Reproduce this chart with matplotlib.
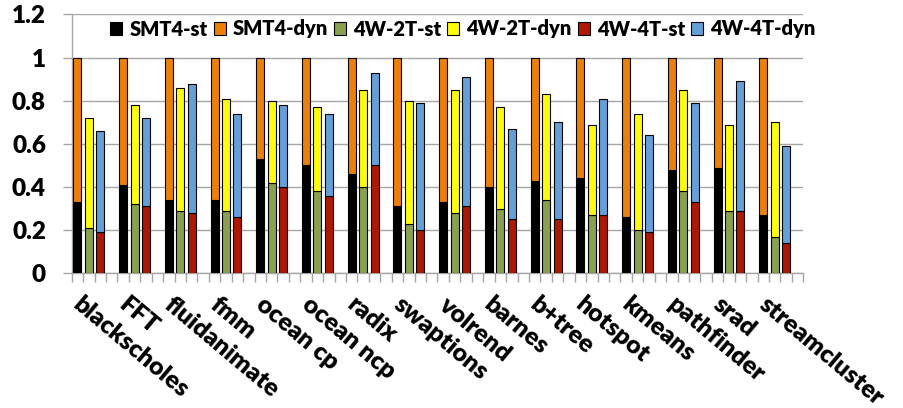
import numpy as np
import matplotlib.pyplot as plt
from matplotlib.patches import Patch

# benchmark names
benchmarks = ['blackscholes', 'FFT', 'fluidanimate', 'fmm', 'ocean cp', 'ocean ncp',
              'radix', 'swaptions', 'volrend', 'barnes', 'b+tree', 'hotspot',
              'kmeans', 'pathfinder', 'srad', 'streamcluster']

# normalized energy, static part and total (static + dynamic)
smt4_st = [0.33, 0.41, 0.34, 0.34, 0.53, 0.50, 0.46, 0.31, 0.33, 0.40, 0.43, 0.44,
           0.26, 0.48, 0.49, 0.27]
smt4_tot = [1.0] * 16
w2t_st = [0.21, 0.32, 0.29, 0.29, 0.42, 0.38, 0.40, 0.23, 0.28, 0.30, 0.34, 0.27,
          0.20, 0.38, 0.29, 0.17]
w2t_tot = [0.72, 0.78, 0.86, 0.81, 0.80, 0.77, 0.85, 0.80, 0.85, 0.77, 0.83, 0.69,
           0.74, 0.85, 0.69, 0.70]
w4t_st = [0.19, 0.31, 0.28, 0.26, 0.40, 0.36, 0.50, 0.20, 0.31, 0.25, 0.25, 0.27,
          0.19, 0.33, 0.29, 0.14]
w4t_tot = [0.66, 0.72, 0.88, 0.74, 0.78, 0.74, 0.93, 0.79, 0.91, 0.67, 0.70, 0.81,
           0.64, 0.79, 0.89, 0.59]

series_names = ['SMT4-st', 'SMT4-dyn', '4W-2T-st', '4W-2T-dyn', '4W-4T-st', '4W-4T-dyn']
colors = ['#000000', '#EF7F00', '#8AA14B', '#FFFF00', '#B21600', '#62A0DC']

plt.rcParams['font.family'] = ['Lato', 'DejaVu Sans']
plt.rcParams['font.weight'] = 'heavy'

fig = plt.figure(figsize=(9.04, 4.08), dpi=100)
ax = fig.add_axes([0.0793, 0.330, 0.8093, 0.6345])

# every group takes 4 slots: 3 bars and a blank one
n = len(benchmarks)
base = np.arange(n) * 4 + 0.5
groups = [(smt4_st, smt4_tot), (w2t_st, w2t_tot), (w4t_st, w4t_tot)]
for k, (st, tot) in enumerate(groups):
    st = np.array(st)
    dyn = np.array(tot) - st
    ax.bar(base + k, st, width=0.7, color=colors[2 * k], edgecolor='black', linewidth=0.8, zorder=3)
    ax.bar(base + k, dyn, bottom=st, width=0.7, color=colors[2 * k + 1], edgecolor='black',
           linewidth=0.8, zorder=3)

ax.set_xlim(0, n * 4)
ax.set_ylim(0, 1.2)

yt = [0, 0.2, 0.4, 0.6, 0.8, 1.0, 1.2]
ax.set_yticks(yt)
ax.set_yticklabels(['0', '0.2', '0.4', '0.6', '0.8', '1', '1.2'], fontsize=17.5, fontweight='heavy')
ax.tick_params(axis='y', length=6.5, color='#A6A6A6', width=1, pad=12)
ax.yaxis.grid(True, color='#A6A6A6', linewidth=1, zorder=0)

ax.set_xticks(np.arange(0, n * 4 + 1), minor=True)
ax.set_xticks([])
ax.tick_params(axis='x', which='minor', length=6.5, color='#A6A6A6', width=1)

for side in ['top', 'right']:
    ax.spines[side].set_visible(False)
for side in ['left', 'bottom']:
    ax.spines[side].set_color('#A6A6A6')
    ax.spines[side].set_linewidth(1)

for i, name in enumerate(benchmarks):
    ax.text(i * 4 + 1.0, -0.09, name, rotation=-40, rotation_mode='anchor',
            ha='left', va='top', fontsize=18, fontweight='heavy')

handles = [Patch(facecolor=c, edgecolor='black', linewidth=0.8) for c in colors]
fig.legend(handles, series_names, loc='center', bbox_to_anchor=(463 / 904, 1 - 29 / 408),
           ncol=6, frameon=False, handlelength=0.6, handleheight=0.6,
           handletextpad=0.35, columnspacing=0.3, prop={'weight': 'heavy', 'size': 14.5})

fig.savefig('out.png', dpi=100)
